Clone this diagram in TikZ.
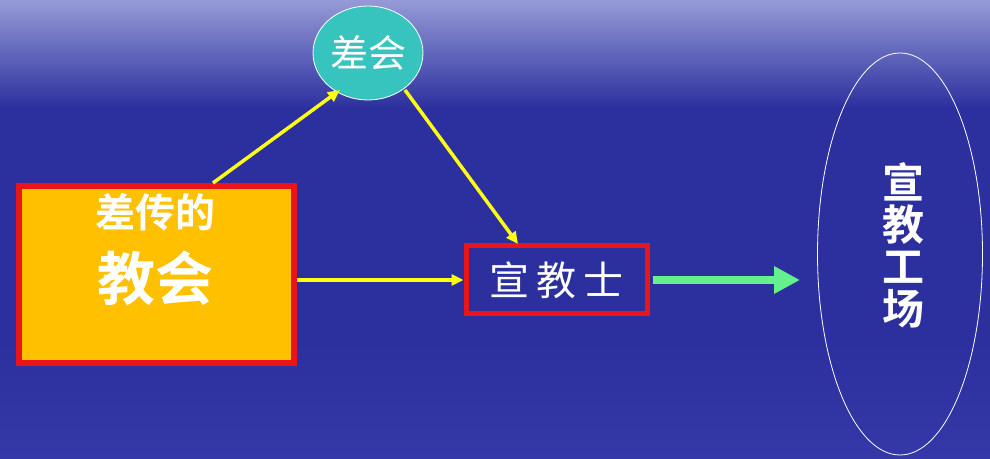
\documentclass[tikz,border=0pt]{standalone}
\usepackage{fontspec}
\newfontfamily\cjk{Noto Sans CJK SC}
\newfontfamily\cjkb{Noto Sans CJK SC Bold}
\usetikzlibrary{arrows.meta,shapes.geometric}
\definecolor{bgmid}{RGB}{44,48,158}
\definecolor{bgtop}{RGB}{150,155,215}
\definecolor{bgbot}{RGB}{52,56,168}
\definecolor{boxfill}{RGB}{255,192,0}
\definecolor{boxred}{RGB}{235,20,25}
\definecolor{tealfill}{RGB}{56,196,190}
\definecolor{yarrow}{RGB}{255,255,20}
\definecolor{garrow}{RGB}{100,240,140}
\tikzset{
  yel/.style={draw=yarrow, line width=3.5pt, -{Triangle[length=12pt,width=11pt]}},
  wtxt/.style={text=white, inner sep=0pt},
}
\begin{document}
\begin{tikzpicture}[x=1pt,y=1pt]
\useasboundingbox (0,0) rectangle (990,458);
% background
\fill[bgmid] (0,0) rectangle (990,458);
\shade[top color=bgtop, bottom color=bgmid] (0,350) rectangle (990,458);
\shade[top color=bgmid, bottom color=bgbot] (0,0) rectangle (990,120);
% big box
\node[draw=boxred, line width=6pt, fill=boxfill, minimum width=275pt, minimum height=177pt, inner sep=0pt] (church) at (156.5,183.5) {};
\node[wtxt, font=\cjkb\fontsize{40}{40}\selectfont] (l1) at (155,246) {差传的};
\node[wtxt, font=\cjkb\fontsize{58}{58}\selectfont] (l2) at (155,180) {教会};
% mission circle
\node[ellipse, draw=white, line width=0.8pt, fill=tealfill, minimum width=110pt, minimum height=94pt, inner sep=0pt, text=white, font=\cjk\fontsize{38}{38}\selectfont] (mission) at (368,405) {差会};
% missionary box
\node[draw=boxred, line width=5pt, minimum width=181pt, minimum height=68pt, inner sep=0pt, text=white, font=\cjk\fontsize{40}{40}\selectfont] (missionary) at (556.5,178) {宣\,教\,士};
% field ellipse
\node[ellipse, draw=white, line width=0.8pt, minimum width=165pt, minimum height=402pt, inner sep=0pt] (field) at (900,204) {};
\node[wtxt, font=\cjkb\fontsize{42}{42}\selectfont, align=center] (fieldtxt) at (903,213) {宣\\教\\工\\场};
% arrows
\coordinate (c1) at (213,275);
\coordinate (c2) at (340,368);
\draw[yel] (c1) -- (c2);
\coordinate (m1) at (405,368);
\coordinate (m2) at (518,214);
\draw[yel] (m1) -- (m2);
\draw[yel] (church.east |- missionary.west) -- (missionary.west);
\coordinate (g1) at (653,178);
\coordinate (g2) at (800,178);
\draw[draw=garrow, line width=8pt, -{Triangle[length=26pt,width=26pt]}] (g1) -- (g2);
\end{tikzpicture}
\end{document}
